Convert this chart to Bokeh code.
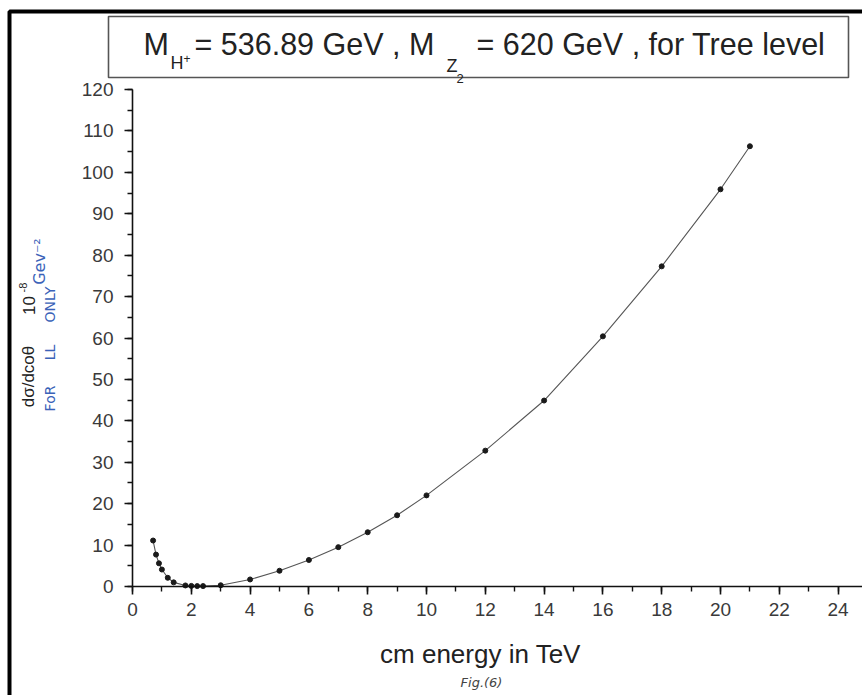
import math
from bokeh.plotting import figure
from bokeh.models import Range1d, SingleIntervalTicker, Label, BoxAnnotation, ColumnDataSource, LinearAxis
from bokeh.embed import file_html
from bokeh.resources import INLINE

# ---- data ----
energy_tev = [0.7, 0.8, 0.9, 1.0, 1.2, 1.4, 1.8, 2.0, 2.2, 2.4, 3, 4, 5, 6, 7, 8, 9, 10, 12, 14, 16, 18, 20, 21]
dsigma = [11.1, 7.7, 5.6, 4.1, 2.1, 1.0, 0.25, 0.15, 0.1, 0.1, 0.3, 1.7, 3.8, 6.4, 9.5, 13.1, 17.2, 22.0, 32.8, 44.9, 60.4, 77.3, 95.9, 106.3]

title_main = "M"
title_sub1 = "H"
title_sup1 = "+"
title_mid = "= 536.89 GeV , M"
title_sub2 = "Z"
title_subsub2 = "2"
title_end = "= 620 GeV , for Tree level"
x_title = "cm energy in TeV"
fig_note = "Fig.(6)"
y_title = "d\u03c3/dco\u03b8"
y_unit = "10"
y_exp = "-8"
y_note_unit = "Gev\u207b\u00b2"
y_note_words = ["FoR", "LL", "ONLY"]

W, H = 862, 695
# pixel positions of the plotting area inside the canvas
FL, FR, FT, FB = 132, 862, 89, 586
XMAX, YMAX = 24.83, 120
XS = XMAX / (FR - FL)   # data units per pixel
YS = YMAX / (FB - FT)

p = figure(width=W, height=H, output_backend="svg", toolbar_location=None,
           x_range=Range1d(-FL * XS, (W - FL) * XS), y_range=Range1d(-(H - FB) * YS, FB * YS),
           x_axis_location=None, y_axis_location=None,
           min_border=0)
p.outline_line_color = None
p.grid.visible = False
p.background_fill_color = "white"
p.border_fill_color = "white"

def px(xp):
    return (xp - FL) * XS

def py(yp):
    return (FB - yp) * YS

src = ColumnDataSource(dict(x=energy_tev, y=dsigma))
p.line("x", "y", source=src, line_color="#555555", line_width=1.1)
p.scatter("x", "y", source=src, size=5, fill_color="#1a1a1a", line_color="#1a1a1a")

xaxis = LinearAxis(fixed_location=0, bounds=(0, XMAX),
                   ticker=SingleIntervalTicker(interval=2, num_minor_ticks=2))
yaxis = LinearAxis(fixed_location=0, bounds=(0, YMAX),
                   ticker=SingleIntervalTicker(interval=10, num_minor_ticks=2))
for ax in (xaxis, yaxis):
    ax.axis_line_color = "#111111"
    ax.axis_line_width = 1.6
    ax.major_tick_line_color = "#111111"
    ax.minor_tick_line_color = "#111111"
    ax.major_tick_line_width = 1.6
    ax.minor_tick_line_width = 1.4
    ax.major_tick_in = 0
    ax.minor_tick_in = 0
    ax.major_tick_out = 8
    ax.minor_tick_out = 5
    ax.major_label_text_font = "Liberation Sans"
    ax.major_label_text_font_size = "19px"
    ax.major_label_text_color = "#3a3a3a"
xaxis.major_label_standoff = 8
yaxis.major_label_standoff = 11
p.add_layout(xaxis, "below")
p.add_layout(yaxis, "left")

# outer page frame
p.add_layout(BoxAnnotation(left=px(9), right=px(900), top=py(11), bottom=py(720),
                           fill_color=None, fill_alpha=0, line_color="black", line_alpha=1, line_width=4))
# title box
p.add_layout(BoxAnnotation(left=px(108), right=px(848), top=py(16), bottom=py(77),
                           fill_color=None, fill_alpha=0, line_color="#555555", line_alpha=1, line_width=1.6))

def lab(text, xp, yp, size, color="#222222", font="Liberation Sans", angle=0, align="left", baseline="alphabetic", style="normal"):
    p.add_layout(Label(x=px(xp), y=py(yp), text=text, text_font=font, text_font_size=f"{size}px",
                       text_color=color, angle=angle, text_align=align, text_baseline=baseline,
                       text_font_style=style))

# title pieces
lab(title_main, 143, 43, 30.5)
lab(title_sub1, 170, 62, 18)
lab(title_sup1, 183, 58, 12)
lab(title_mid, 194, 43, 30.5)
lab(title_sub2, 446, 65, 18)
lab(title_subsub2, 456, 78, 13)
lab(title_end, 476, 43, 30.5)

# x axis title
lab(x_title, 480, 653, 26, align="center")
lab(fig_note, 481, 682, 13, color="#444444", font="DejaVu Sans", align="center", style="italic")

# y axis titles (rotated)
lab(y_title, 28, 376, 17, angle=math.pi / 2, align="center", baseline="middle")
lab(y_unit, 28, 305, 17, angle=math.pi / 2, align="center", baseline="middle")
lab(y_exp, 22, 287, 11, angle=math.pi / 2, align="center", baseline="middle")
lab(y_note_unit, 39, 261, 16, color="#3a62b8", font="DejaVu Sans", angle=math.pi / 2, align="center", baseline="middle")
for word, yp in zip(y_note_words, [398, 352, 304]):
    lab(word, 49, yp, 14, color="#3a62b8", font="DejaVu Sans", angle=math.pi / 2, align="center", baseline="middle")

open("out.html", "w").write(file_html(p, INLINE))
